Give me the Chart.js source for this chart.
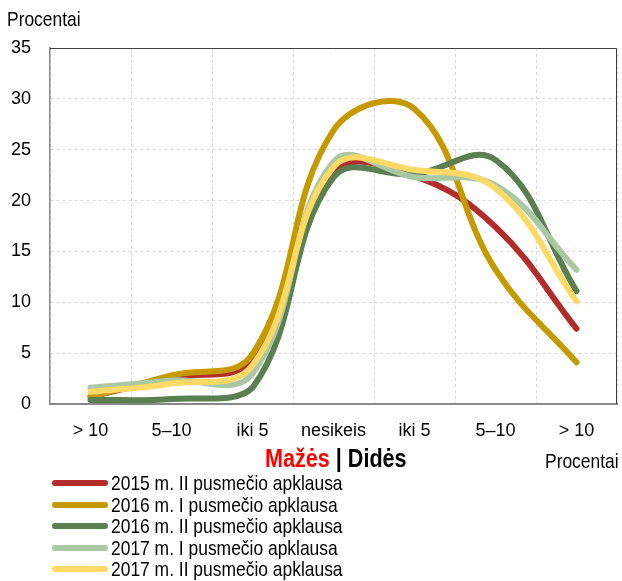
<!DOCTYPE html>
<html>
<head>
<meta charset="utf-8">
<script src="https://cdn.jsdelivr.net/npm/chart.js@4.4.1/dist/chart.umd.min.js"></script>
<style>
  body { margin: 0; background: #fff; }
  #wrap { position: relative; width: 622px; height: 581px; font-family: 'Liberation Sans', Arial, sans-serif; color: #000; }
  #wrap canvas { position: absolute; left: 0; top: 0; }
  .txt { position: absolute; white-space: nowrap; transform: scaleX(0.83); transform-origin: 0 0; }
  .leg-line { position: absolute; width: 56px; height: 6px; border-radius: 3px; }
</style>
</head>
<body>
<div id="wrap">
  <canvas id="chart" width="622" height="581"></canvas>
  <div class="txt" style="left:7px; top:8px; font-size:21px; line-height:21px;">Procentai</div>
  <div class="txt" style="left:265px; top:445px; font-size:26px; line-height:26px; font-weight:bold;"><span style="color:#ff0000">Mažės</span> | Didės</div>
  <div class="txt" style="left:545px; top:450px; font-size:21px; line-height:21px;">Procentai</div>
  <div id="legend"></div>
</div>
<script>
// kategorijos (x ašis)
const categories = ['> 10', '5–10', 'iki 5', 'nesikeis', 'iki 5', '5–10', '> 10'];

// serijos
const seriesNames = [
    '2015 m. II pusmečio apklausa',
    '2016 m. I pusmečio apklausa',
    '2016 m. II pusmečio apklausa',
    '2017 m. I pusmečio apklausa',
    '2017 m. II pusmečio apklausa'
];
const s2015II = [0.7, 2.6, 4.4, 22.8, 22.4, 17.4, 7.4];
const s2016I  = [0.7, 2.8, 4.9, 26.9, 29.0, 13.2, 4.1];
const s2016II = [0.4, 0.5, 1.6, 22.3, 22.6, 24.0, 11.1];
const s2017I  = [1.6, 2.3, 3.0, 23.8, 22.3, 21.5, 13.2];
const s2017II = [1.2, 2.0, 3.8, 23.3, 23.0, 21.2, 10.1];

const yMin = 0, yMax = 35, yStep = 5;

const seriesColors = ['#b22d2a', '#c49a00', '#5a7f50', '#a9c8a3', '#ffd966'];
const seriesData = [s2015II, s2016I, s2016II, s2017I, s2017II];

// legenda
const legend = document.getElementById('legend');
seriesNames.forEach((name, i) => {
    const cy = 483 + i * 21.6;
    legend.innerHTML += `<div class="leg-line" style="left:52px; top:${cy - 3}px; background:${seriesColors[i]}"></div>` +
        `<div class="txt" style="left:111px; top:${cy - 11}px; font-size:21px; line-height:21px;">${name}</div>`;
});

// viršutinis ir dešinysis rėmelis
const frame = {
    id: 'frame',
    afterDraw(chart) {
        const { ctx, chartArea: a } = chart;
        ctx.save();
        ctx.strokeStyle = '#404040';
        ctx.lineWidth = 1;
        ctx.beginPath();
        ctx.moveTo(a.left, a.top + 0.5);
        ctx.lineTo(a.right - 0.5, a.top + 0.5);
        ctx.lineTo(a.right - 0.5, a.bottom);
        ctx.stroke();
        ctx.restore();
    }
};

Chart.defaults.font.family = "'Liberation Sans', Arial, sans-serif";
Chart.defaults.color = '#000';

new Chart(document.getElementById('chart'), {
    type: 'line',
    data: {
        labels: categories,
        datasets: seriesData.map((d, i) => ({
            label: seriesNames[i],
            data: d,
            borderColor: seriesColors[i],
            backgroundColor: seriesColors[i],
            borderWidth: 6,
            borderCapStyle: 'round',
            borderJoinStyle: 'round',
            pointRadius: 0,
            tension: 0.4,
            order: 5 - i
        }))
    },
    options: {
        responsive: false,
        animation: false,
        layout: { padding: { top: 48, right: 5, left: 0, bottom: 0 } },
        plugins: { legend: { display: false }, tooltip: { enabled: false } },
        scales: {
            x: {
                offset: true,
                afterFit: s => { s.height = 177; },
                grid: { color: '#d9d9d9', drawTicks: false, offset: true },
                border: { color: '#888', width: 2, dash: [3, 3] },
                ticks: { padding: 16, font: { size: 18 }, maxRotation: 0 }
            },
            y: {
                min: yMin,
                max: yMax,
                afterFit: s => { s.width = 50; },
                grid: { color: '#d9d9d9', drawTicks: false },
                border: { color: '#888', width: 1.5, dash: [3, 3] },
                ticks: { stepSize: yStep, padding: 19, font: { size: 18 } }
            }
        }
    },
    plugins: [frame]
});
</script>
</body>
</html>
